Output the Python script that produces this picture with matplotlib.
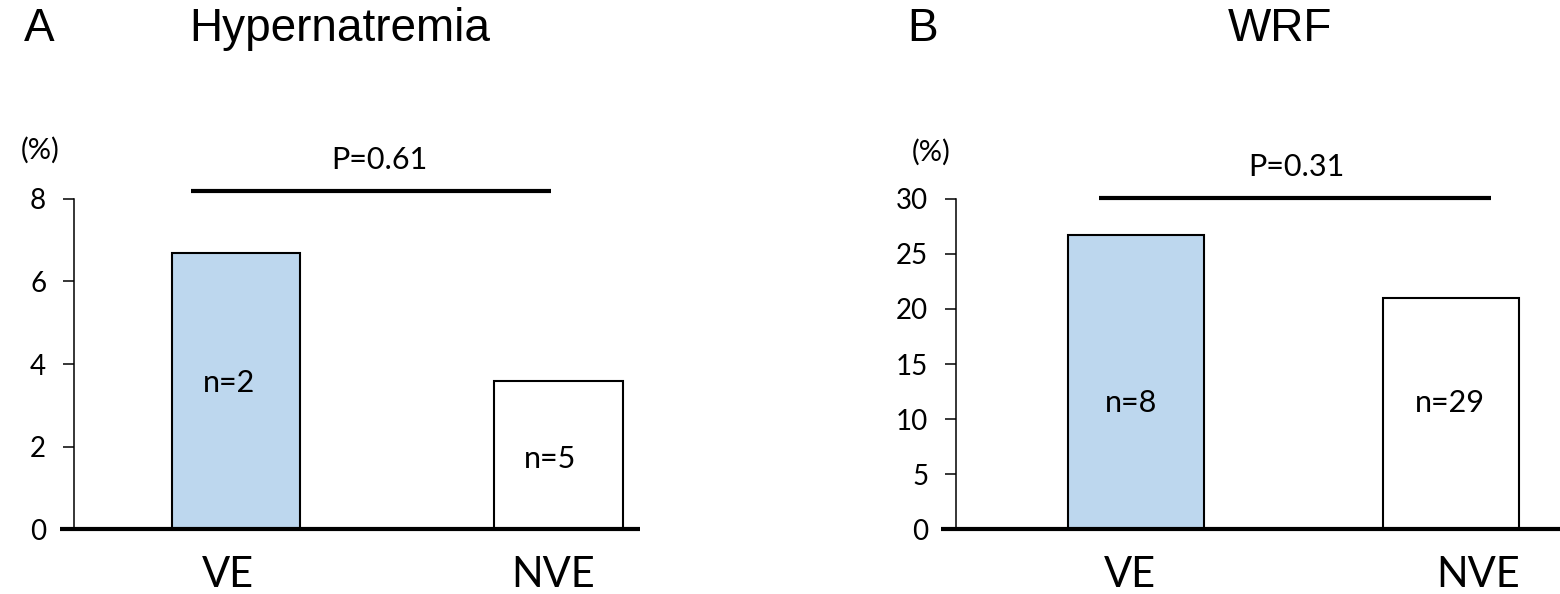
import matplotlib
matplotlib.use("Agg")
import matplotlib.pyplot as plt

groups = ["VE", "NVE"]
hyper_pct = [6.7, 3.6]
hyper_n = ["n=2", "n=5"]
wrf_pct = [26.7, 21.0]
wrf_n = ["n=8", "n=29"]
p_hyper = "P=0.61"
p_wrf = "P=0.31"

body_font = "Lato"
title_font = "Liberation Sans"
bar_colors = ["#BDD7EE", "white"]


def draw_panel(ax, values, labels, ymax, step, pval, p_y, p_text, n_pos,
               width, xlim, line_x, name_x, pct_pos):
    x = [0, 1]
    ax.bar(x, values, width=width, color=bar_colors, edgecolor="black",
           linewidth=1.5, zorder=2)
    ax.set_xlim(*xlim)
    ax.set_ylim(0, ymax)
    ax.set_yticks(range(0, ymax + 1, step))
    ax.tick_params(axis="y", direction="out", length=8, width=1.1,
                   labelsize=20, pad=12)
    for t in ax.get_yticklabels():
        t.set_fontfamily(body_font)
    ax.set_xticks([])
    for s in ["top", "right", "bottom"]:
        ax.spines[s].set_visible(False)
    ax.spines["left"].set_linewidth(1.1)
    # thick baseline running a bit to the left of the y axis
    ax.plot([-0.025, 1.0], [0, 0], transform=ax.get_yaxis_transform(),
            color="black", linewidth=3, clip_on=False, zorder=3,
            solid_capstyle="butt")
    # n labels inside bars
    for (nx, ny), lab in zip(n_pos, labels):
        ax.text(nx, ny, lab, ha="center", va="center", fontsize=22,
                fontfamily=body_font)
    # significance line and p value
    ax.plot(line_x, [p_y, p_y], color="black", linewidth=3, clip_on=False,
            solid_capstyle="butt")
    ax.text(p_text[0], p_text[1], pval, ha="center", va="center",
            fontsize=22, fontfamily=body_font, clip_on=False)
    ax.text(pct_pos[0], pct_pos[1], "(%)", ha="center", va="center",
            fontsize=21, fontfamily=body_font, clip_on=False)
    # category names under the axis
    for nx, g in zip(name_x, groups):
        ax.text(nx, -0.14, g, ha="center", va="center", fontsize=30,
                fontfamily=body_font, transform=ax.get_xaxis_transform())


fig = plt.figure(figsize=(15.6, 5.94), dpi=100)
ax1 = fig.add_axes([0.0474, 0.1094, 0.3626, 0.5556])
ax2 = fig.add_axes([0.6128, 0.1094, 0.3872, 0.5556])

draw_panel(ax1, hyper_pct, hyper_n, 8, 2, p_hyper, 8.19, (0.444, 8.95),
           [(-0.022, 3.53), (0.975, 1.7)], 0.4,
           (-0.503, 1.253), [-0.14, 0.978], [-0.026, 0.984], (-0.608, 9.17))
draw_panel(ax2, wrf_pct, wrf_n, 30, 5, p_wrf, 30.1, (0.51, 32.9),
           [(-0.016, 11.5), (0.997, 11.5)], 0.43,
           (-0.57, 1.345), [-0.117, 1.127], [-0.02, 1.085], (-0.65, 34.2))

for fx, txt in [(0.025, "A"), (0.218, "Hypernatremia"), (0.5917, "B"),
                (0.8205, "WRF")]:
    fig.text(fx, 0.952, txt, fontsize=33, fontfamily=title_font,
             ha="center", va="center")

fig.savefig("out.png", dpi=100)
